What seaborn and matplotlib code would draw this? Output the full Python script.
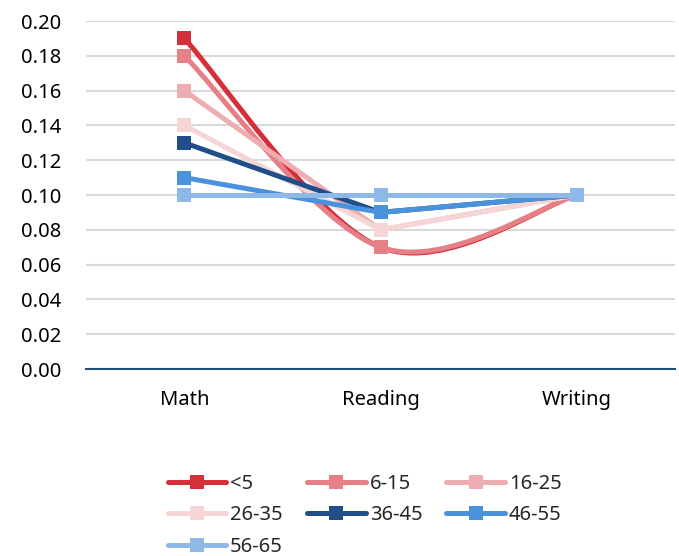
import numpy as np
import pandas as pd
import matplotlib
matplotlib.use("Agg")
import matplotlib.pyplot as plt
from matplotlib.path import Path
from matplotlib.patches import PathPatch
from matplotlib.lines import Line2D
import seaborn as sns

# data
subjects = ["Math", "Reading", "Writing"]
age_groups = ["<5", "6-15", "16-25", "26-35", "36-45", "46-55", "56-65"]
lt5 = [0.19, 0.07, 0.10]
a6_15 = [0.18, 0.07, 0.10]
a16_25 = [0.16, 0.08, 0.10]
a26_35 = [0.14, 0.08, 0.10]
a36_45 = [0.13, 0.09, 0.10]
a46_55 = [0.11, 0.09, 0.10]
a56_65 = [0.10, 0.10, 0.10]
values = [lt5, a6_15, a16_25, a26_35, a36_45, a46_55, a56_65]
colors = ["#D52F3A", "#E67F86", "#EEADB1", "#F6D5D7", "#1F4E89", "#4A92DC", "#8DB8E8"]
smoothed = ["<5", "6-15"]   # these two are drawn as smoothed lines in the original

sns.set_style("white")
plt.rcParams["font.family"] = ["Noto Sans", "DejaVu Sans"]

fig = plt.figure(figsize=(6.79, 5.56), dpi=100)
ax = fig.add_axes([0.127, 0.3363, 0.867, 0.6259])

LW = 3.6
MS = 10
FS = 14.5


def smooth_path(ys):
    # Excel-style smoothing: cubic bezier with catmull-rom control points
    pts = np.column_stack([np.arange(len(ys)), ys]).astype(float)
    verts = [pts[0]]
    codes = [Path.MOVETO]
    n = len(pts)
    for i in range(n - 1):
        p_prev = pts[max(i - 1, 0)]
        p0, p1 = pts[i], pts[i + 1]
        p_next = pts[min(i + 2, n - 1)]
        c1 = p0 + (p1 - p_prev) / 6
        c2 = p1 - (p_next - p0) / 6
        verts += [c1, c2, p1]
        codes += [Path.CURVE4] * 3
    return Path(verts, codes)


for name, vals, col in zip(age_groups, values, colors):
    df = pd.DataFrame({"subject": subjects, "value": vals})
    if name in smoothed:
        ax.add_patch(PathPatch(smooth_path(vals), facecolor="none", edgecolor=col,
                               linewidth=LW, capstyle="round", joinstyle="round"))
        sns.lineplot(data=df, x="subject", y="value", ax=ax, color=col,
                     linewidth=0, marker="s", markersize=MS, markeredgewidth=0)
    else:
        sns.lineplot(data=df, x="subject", y="value", ax=ax, color=col,
                     linewidth=LW, marker="s", markersize=MS, markeredgewidth=0,
                     solid_capstyle="round")

ax.set_xlim(-0.5, 2.5)
ax.set_ylim(0, 0.2)
ax.set_yticks(np.arange(0, 0.201, 0.02))
ax.set_yticklabels([f"{v:.2f}" for v in np.arange(0, 0.201, 0.02)])
ax.yaxis.grid(True, color="#D9D9D9", linewidth=1.5)
ax.set_axisbelow(True)
for s in ["top", "right", "left"]:
    ax.spines[s].set_visible(False)
ax.spines["bottom"].set_color("#1F4E79")
ax.spines["bottom"].set_linewidth(1.5)
ax.tick_params(axis="both", length=0, labelsize=FS, colors="#000000")
ax.tick_params(axis="x", pad=15)
ax.tick_params(axis="y", pad=18)
ax.set_xlabel("")
ax.set_ylabel("")

handles = [Line2D([0], [0], color=c, linewidth=LW, marker="s", markersize=MS,
                  markeredgewidth=0, solid_capstyle="round") for c in colors]
# matplotlib fills legend columns first; reorder so entries read row by row
order = [0, 3, 6, 1, 4, 2, 5]
fig.legend([handles[i] for i in order], [age_groups[i] for i in order],
           loc="upper left", bbox_to_anchor=(0.247, 0.148),
           ncol=3, frameon=False, fontsize=FS, handlelength=2.9, handletextpad=0.2,
           columnspacing=1.2, labelspacing=0.58, borderpad=0, borderaxespad=0)

fig.savefig("out.png", dpi=100)
